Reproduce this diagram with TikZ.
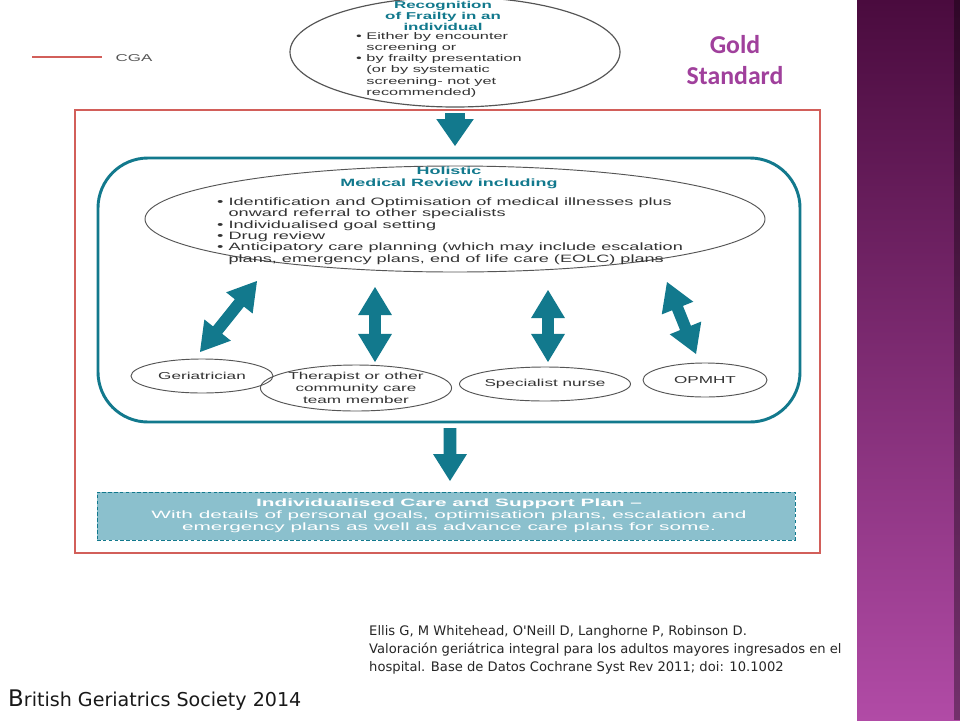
\documentclass[tikz,border=0pt]{standalone}
\usepackage{fontspec}
\setmainfont{Liberation Sans}
\newfontfamily\dg[FakeStretch=1.7]{Liberation Sans}
\newfontfamily\dgw[FakeStretch=1.95]{Liberation Sans}
\newfontfamily\refont{DejaVu Sans}
\newfontfamily\goldfont{Carlito}
\usetikzlibrary{calc,shapes.geometric}
\definecolor{tealc}{HTML}{12798D}
\definecolor{redc}{HTML}{D25F5A}
\definecolor{greyc}{HTML}{555555}
\definecolor{txtc}{HTML}{333333}
\definecolor{boxc}{HTML}{8BC0CD}
\definecolor{goldc}{HTML}{A0409C}
\definecolor{bandtop}{HTML}{4A0B3E}
\definecolor{bandmid}{HTML}{7B2C6E}
\definecolor{bandbot}{HTML}{B14BA6}
\newcommand\dblarrow[2]{%
  \fill[tealc] (#1) -- ($(#1)!24pt!(#2)!14.5pt!90:(#2)$) -- ($(#1)!24pt!(#2)!5pt!90:(#2)$)
   -- ($(#2)!24pt!(#1)!5pt!-90:(#1)$) -- ($(#2)!24pt!(#1)!14.5pt!-90:(#1)$) -- (#2)
   -- ($(#2)!24pt!(#1)!14.5pt!90:(#1)$) -- ($(#2)!24pt!(#1)!5pt!90:(#1)$)
   -- ($(#1)!24pt!(#2)!5pt!-90:(#2)$) -- ($(#1)!24pt!(#2)!14.5pt!-90:(#2)$) -- cycle;}
\newcommand\sglarrow[5]{%
  \fill[tealc] ($(#1)!#3!90:(#2)$) -- ($(#2)!#5!(#1)!#3!-90:(#1)$) -- ($(#2)!#5!(#1)!#4!-90:(#1)$)
   -- (#2) -- ($(#2)!#5!(#1)!#4!90:(#1)$) -- ($(#2)!#5!(#1)!#3!90:(#1)$) -- ($(#1)!#3!-90:(#2)$) -- cycle;}
\begin{document}
\begin{tikzpicture}[x=0.03cm,y=-0.03cm,
  oval/.style={ellipse,draw=greyc,line width=0.8pt,inner sep=0pt,align=center,text=txtc,
     font=\dg\fontsize{8.6}{10.2}\selectfont},
  ttl/.style={text=tealc,align=center,inner sep=0pt,font=\dg\bfseries\fontsize{9}{10.2}\selectfont},
  bul/.style={text=txtc,align=left,inner sep=0pt,font=\dg\fontsize{9.1}{9.7}\selectfont}]
\useasboundingbox (0,0) rectangle (960,720);
\fill[white] (0,0) rectangle (960,720);
% side band
\shade[top color=bandtop, middle color=bandmid, bottom color=bandbot] (857,0) rectangle (960,720);
\fill[black,opacity=0.35] (954,0) rectangle (960,720);
% legend
\node[inner sep=0pt,text=greyc,font=\dg\fontsize{8.5}{10}\selectfont] (cgalabel) at (134,58) {CGA};
\coordinate (lg) at (32,57);
\draw[redc,line width=1.8pt] (lg) -- ($(cgalabel.west)+(-13,-1)$);
% red CGA frame
\node[draw=redc,line width=1.8pt,minimum width=745*0.03cm,minimum height=443*0.03cm,inner sep=0pt] (cga) at (447.5,331.5) {};
% top ellipse
\node[oval,line width=1pt,minimum width=330*0.03cm,minimum height=110*0.03cm] (recog) at (455,52) {};
\node[ttl,font=\dg\bfseries\fontsize{8.5}{9.4}\selectfont] (recogttl) at (443,16) {Recognition\\of Frailty in an\\individual};
\node[bul,font=\dg\fontsize{8.2}{9.4}\selectfont,anchor=west] (recogbul) at (356,65)
 {\textbullet\ Either by encounter\\\hphantom{\textbullet\ }screening or\\\textbullet\ by frailty presentation\\\hphantom{\textbullet\ }(or by systematic\\\hphantom{\textbullet\ }screening- not yet\\\hphantom{\textbullet\ }recommended)};
% arrow into CGA
\coordinate (ta1) at (455,113);
\coordinate (ta2) at (455,146);
\sglarrow{ta1}{ta2}{8.5pt}{16pt}{23pt}
% holistic frame
\node[draw=tealc,line width=2.5pt,rounded corners=50*0.03cm,minimum width=702*0.03cm,minimum height=264*0.03cm,inner sep=0pt] (holistic) at (449,290) {};
\node[oval,minimum width=620*0.03cm,minimum height=106*0.03cm] (review) at (455,219) {};
\node[ttl] (reviewttl) at (449,178) {Holistic\\Medical Review including};
\node[bul,anchor=west] (reviewbul) at (217,231)
 {\textbullet\ Identification and Optimisation of medical illnesses plus\\\hphantom{\textbullet\ }onward referral to other specialists\\\textbullet\ Individualised goal setting\\\textbullet\ Drug review\\\textbullet\ Anticipatory care planning (which may include escalation\\\hphantom{\textbullet\ }plans, emergency plans, end of life care (EOLC) plans};
% team members
\node[oval,minimum width=142*0.03cm,minimum height=34*0.03cm] (ger) at (202,376) {Geriatrician};
\node[oval,minimum width=162*0.03cm,minimum height=46*0.03cm] (ther) at (356,388) {Therapist or other\\community care\\team member};
\node[oval,minimum width=152*0.03cm,minimum height=34*0.03cm] (nurse) at (545,384) {Specialist nurse};
\node[oval,minimum width=124*0.03cm,minimum height=34*0.03cm] (opmht) at (705,380) {OPMHT};
% double arrows
\coordinate (d1a) at (200,352); \coordinate (d1b) at (257,281);
\coordinate (d2a) at (375,362); \coordinate (d2b) at (375,287);
\coordinate (d3a) at (548,362); \coordinate (d3b) at (548,290);
\coordinate (d4a) at (696,354); \coordinate (d4b) at (667,282);
\dblarrow{d1a}{d1b}
\dblarrow{d2a}{d2b}
\dblarrow{d3a}{d3b}
\dblarrow{d4a}{d4b}
% arrow to plan
\coordinate (ba1) at (450,428);
\coordinate (ba2) at (450,481);
\sglarrow{ba1}{ba2}{5.5pt}{14.5pt}{23pt}
% plan box
\node[draw=tealc,densely dashed,line width=0.8pt,fill=boxc,minimum width=698*0.03cm,minimum height=48*0.03cm,inner sep=0pt] (plan) at (446,516) {};
\node[text=white,align=center,inner sep=0pt,font=\dgw\fontsize{9.1}{10.2}\selectfont] (plantxt) at (449,516)
 {\textbf{Individualised Care and Support Plan –}\\With details of personal goals, optimisation plans, escalation and\\emergency plans as well as advance care plans for some.};
% gold standard
\node[text=goldc,align=center,inner sep=0pt,font=\goldfont\bfseries\fontsize{22}{26.5}\selectfont] (gold) at (735,60) {Gold\\Standard};
% reference
\node[anchor=west,align=left,inner sep=0pt,text=black!85,font=\refont\fontsize{11.2}{15.3}\selectfont] (refs) at (369,650)
 {Ellis G, M Whitehead, O'Neill D, Langhorne P, Robinson D.\\Valoración geriátrica integral para los adultos mayores ingresados en el\\hospital. Base de Datos Cochrane Syst Rev 2011; doi: 10.1002};
\node[anchor=base west,inner sep=0pt,text=black!90,font=\refont\fontsize{16.3}{18}\selectfont] (bgs) at (8,706)
 {{\fontsize{19.5}{20}\selectfont B}ritish Geriatrics Society 2014};
\end{tikzpicture}
\end{document}
